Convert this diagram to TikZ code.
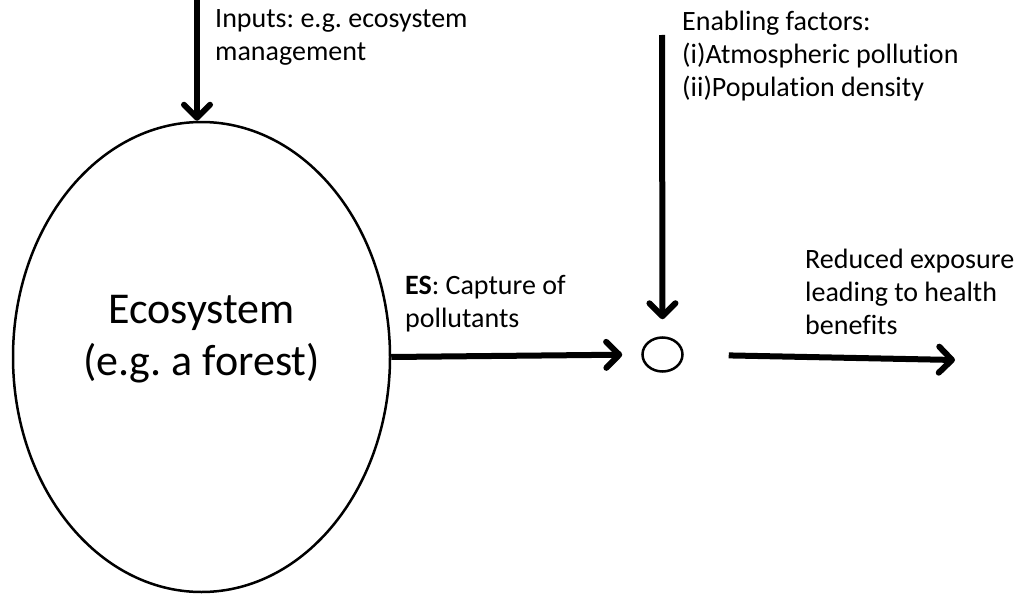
\documentclass[tikz,border=0pt]{standalone}
\usepackage{fontspec}
\setmainfont[Ligatures=NoCommon]{Carlito}
\usetikzlibrary{arrows.meta,shapes.geometric}
\frenchspacing
\begin{document}
\begin{tikzpicture}[x=1pt,y=-1pt,
  lbl/.style={inner sep=0pt,anchor=base west,align=left,font=\fontsize{28}{33}\selectfont},
  bigarrow/.style={line width=6pt,-{Straight Barb[length=13pt,width=26pt,round]}},
  oval/.style={ellipse,draw,line width=2.5pt,inner sep=0pt}]
\useasboundingbox (0,0) rectangle (1018,594);
\node[oval,minimum width=377pt,minimum height=470pt] (eco) at (201.5,357) {};
\node[inner sep=0pt,anchor=base,align=center,font=\fontsize{44}{52}\selectfont\frenchspacing]
  (ecot) at (201.5,375) {Ecosystem\\(e.g. a forest)};
\node[oval,minimum width=40pt,minimum height=34pt] (hub) at (662.5,354.5) {};
\coordinate (in1) at (197,0);
\coordinate (ef) at (662,35);
\coordinate (out) at (955,360);
\draw[bigarrow] (in1) -- (in1 |- eco.north);
\draw[bigarrow,shorten >=19pt] (eco.east) -- (hub.west);
\draw[bigarrow,shorten >=17pt] (ef) -- (hub.north);
\draw[bigarrow,shorten <=45pt] (hub.east) -- (out);
\node[lbl] (tin) at (215,61) {\frenchspacing Inputs: e.g. ecosystem\\management};
\node[lbl] (tef) at (682,96) {Enabling factors:\\(i)Atmospheric pollution\\(ii)Population density};
\node[lbl] (tes) at (405,327) {\textbf{ES}: Capture of\\pollutants};
\node[lbl] (tre) at (805,334) {Reduced exposure\\leading to health\\benefits};
\end{tikzpicture}
\end{document}
